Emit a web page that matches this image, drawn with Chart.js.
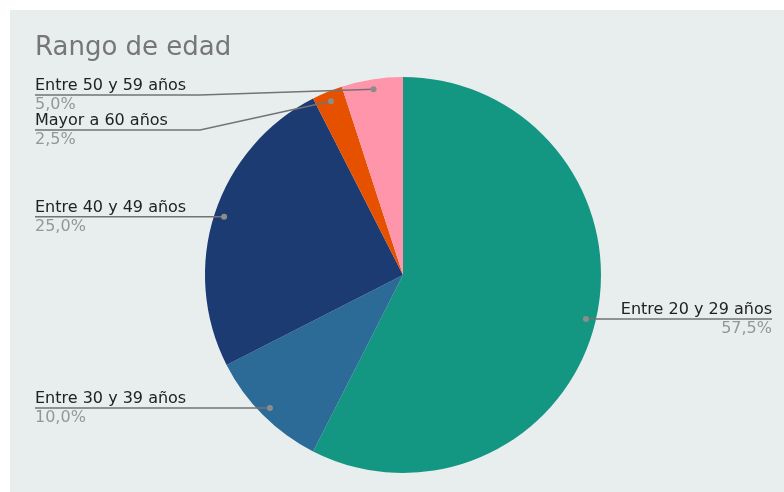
<!DOCTYPE html>
<html>
<head>
<meta charset="utf-8">
<script src="https://cdn.jsdelivr.net/npm/chart.js@4"></script>
<style>
  html, body { margin: 0; padding: 0; background: #ffffff; }
  #wrap { width: 784px; height: 492px; }
</style>
</head>
<body>
<div id="wrap"><canvas id="chart" width="784" height="492"></canvas></div>
<script>
// data
const title = "Rango de edad";
const labels = ["Entre 20 y 29 años", "Entre 30 y 39 años", "Entre 40 y 49 años", "Mayor a 60 años", "Entre 50 y 59 años"];
const values = [57.5, 10.0, 25.0, 2.5, 5.0];
const colors = ["#139682", "#2c6b97", "#1b3b72", "#e65100", "#ff95aa"];

// where the leader lines bend (label y and elbow x), per slice; null = straight line
const elbows = [null, null, null, { x: 200, y: 130 }, { x: 200, y: 95 }];

const FONT = "DejaVu Sans, Verdana, sans-serif";

function fmtPct(v) {
    return v.toFixed(1).replace(".", ",") + "%";
}

const labelPlugin = {
    id: "labelPlugin",
    beforeDraw(chart) {
        let ctx = chart.ctx;
        ctx.save();
        ctx.fillStyle = "#e8eeee";
        ctx.fillRect(10, 10, chart.width - 10, chart.height - 10);
        ctx.fillStyle = "#767676";
        ctx.font = "26px " + FONT;
        ctx.textBaseline = "alphabetic";
        ctx.textAlign = "left";
        ctx.fillText(title, 35, 55);
        ctx.restore();
    },
    afterDraw(chart) {
        let ctx = chart.ctx;
        let meta = chart.getDatasetMeta(0);
        let total = values.reduce((a, b) => a + b, 0);
        ctx.save();
        meta.data.forEach(function (arc, i) {
            let p = arc.getProps(["x", "y", "startAngle", "endAngle", "outerRadius"], true);
            let mid = (p.startAngle + p.endAngle) / 2;
            let dx = p.x + Math.cos(mid) * p.outerRadius * 0.95;
            let dy = p.y + Math.sin(mid) * p.outerRadius * 0.95;
            let right = Math.cos(mid) > 0;
            let endX = right ? 772 : 35;
            let lineY = dy;

            ctx.strokeStyle = "#737373";
            ctx.lineWidth = 1.5;
            ctx.beginPath();
            ctx.moveTo(dx, dy);
            if (elbows[i]) {
                lineY = elbows[i].y;
                ctx.lineTo(elbows[i].x, lineY);
            }
            ctx.lineTo(endX, lineY);
            ctx.stroke();

            ctx.fillStyle = "#8c8c8c";
            ctx.beginPath();
            ctx.arc(dx, dy, 3, 0, Math.PI * 2);
            ctx.fill();

            ctx.textAlign = right ? "right" : "left";
            ctx.textBaseline = "alphabetic";
            ctx.font = "16px " + FONT;
            ctx.fillStyle = "#222222";
            ctx.fillText(labels[i], endX, lineY - 5);
            ctx.fillStyle = "#969696";
            ctx.fillText(fmtPct(values[i] / total * 100), endX, lineY + 14);
        });
        ctx.restore();
    }
};

new Chart(document.getElementById("chart"), {
    type: "pie",
    data: {
        labels: labels,
        datasets: [{
            data: values,
            backgroundColor: colors,
            borderWidth: 0
        }]
    },
    options: {
        responsive: false,
        animation: false,
        layout: { padding: { top: 77, bottom: 19, left: 205, right: 183 } },
        plugins: {
            legend: { display: false },
            tooltip: { enabled: false }
        }
    },
    plugins: [labelPlugin]
});
</script>
</body>
</html>
